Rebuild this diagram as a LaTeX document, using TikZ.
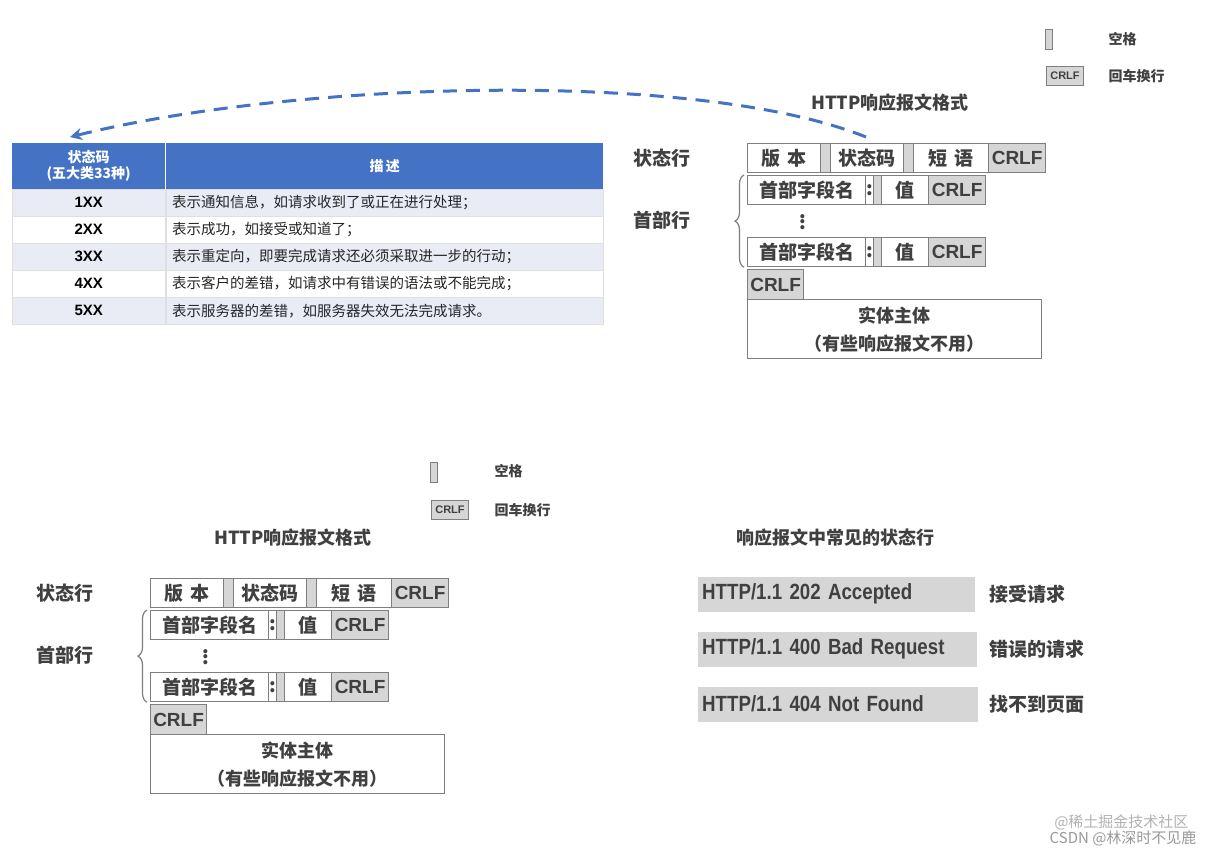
\documentclass[tikz,border=0pt]{standalone}
\usepackage{fontspec}
\setmainfont{Noto Sans CJK SC}
\newfontfamily\lat{Liberation Sans}
\newfontfamily\latn{Liberation Sans}[FakeStretch=0.85]
\usetikzlibrary{decorations.pathreplacing,arrows.meta}
\definecolor{bx}{HTML}{7F7F7F}
\definecolor{gf}{HTML}{D6D6D6}
\definecolor{tb}{HTML}{4472C4}
\definecolor{rw}{HTML}{E9EBF5}
\definecolor{tx}{HTML}{404040}
\tikzset{stl/.style={fill=gf,minimum height=35,inner sep=4pt,anchor=west,font=\latn\bfseries\fontsize{22}{22}\selectfont,text=tx},
 stlab/.style={anchor=west,font=\bfseries\fontsize{19}{20}\selectfont,text=tx}}
\newcommand{\cellnode}[7]{\node[draw=bx,line width=1.2pt,fill=#6,minimum width={#4-#2},minimum height={#5-#3},inner sep=0pt,anchor=north west,font=\bfseries\fontsize{19}{19}\selectfont,text=tx] (#1) at (#2,#3) {#7};}
\newcommand{\respfmt}[1]{%
 \node[font=\bfseries\fontsize{19}{20}\selectfont,text=tx] (#1sl) at (662,158) {状态行};
 \node[font=\bfseries\fontsize{19}{20}\selectfont,text=tx] (#1hl) at (662,220) {首部行};
 \node[font=\bfseries\fontsize{18}{20}\selectfont,text=tx] (#1ti) at (890,103) {HTTP响应报文格式};
 \cellnode{#1v}{747}{143}{820}{172}{white}{版\,\,本}
 \cellnode{#1g1}{820}{143}{830}{172}{gf}{}
 \cellnode{#1c}{830}{143}{903}{172}{white}{状态码}
 \cellnode{#1g2}{903}{143}{913}{172}{gf}{}
 \cellnode{#1p}{913}{143}{988}{172}{white}{短\,\,语}
 \cellnode{#1cr}{988}{143}{1045}{172}{gf}{\lat\bfseries CRLF}
 \foreach \r/\y in {a/175,b/237}{
 \cellnode{#1n\r}{747}{\y}{865}{\y+29}{white}{首部字段名}
 \cellnode{#1o\r}{865}{\y}{873}{\y+29}{white}{:}
 \cellnode{#1s\r}{873}{\y}{881}{\y+29}{gf}{}
 \cellnode{#1w\r}{881}{\y}{928}{\y+29}{white}{值}
 \cellnode{#1e\r}{928}{\y}{985}{\y+29}{gf}{\lat\bfseries CRLF}
 }
 \node[font=\bfseries\fontsize{19}{20}\selectfont,text=tx] (#1dt) at (803,219) {$\vdots$};
 \cellnode{#1ce}{747}{269}{803}{299}{gf}{\lat\bfseries CRLF}
 \node[draw=bx,line width=1.2pt,minimum width=294,minimum height=59,anchor=north west,align=center,font=\bfseries\fontsize{18}{28}\selectfont,text=tx] (#1bd) at (747,299) {实体主体\\（有些响应报文不用）};
 \draw[bx,line width=1.2pt,decorate,decoration={brace,amplitude=9pt}] (#1nb.south west) ++(-3,0) -- ([xshift=-3pt]#1na.north west);
}
\begin{document}
\begin{tikzpicture}[x=1pt,y=-1pt]
\useasboundingbox[fill=white] (0,0) rectangle (1215,857);
% top legend
\node[draw=bx,fill=gf,minimum width=7,minimum height=20,inner sep=0] (lg1) at (1049,39) {};
\node[font=\bfseries\fontsize{14}{14}\selectfont,text=tx,anchor=west] (lt1) at (1105,39) {空格};
\node[draw=bx,fill=gf,minimum width=37,minimum height=19,inner sep=0,font=\lat\bfseries\fontsize{11}{11}\selectfont,text=tx] (lg2) at (1065,76) {CRLF};
\node[font=\bfseries\fontsize{14}{14}\selectfont,text=tx,anchor=west] (lt2) at (1105,76) {回车换行};
\respfmt{T}
\begin{scope}[shift={(-597,435)}]
\respfmt{B}
\end{scope}
% bottom legend
\node[draw=bx,fill=gf,minimum width=7,minimum height=20,inner sep=0] (bg1) at (434,472) {};
\node[font=\bfseries\fontsize{14}{14}\selectfont,text=tx,anchor=west] (bt1) at (491,471) {空格};
\node[draw=bx,fill=gf,minimum width=37,minimum height=19,inner sep=0,font=\lat\bfseries\fontsize{11}{11}\selectfont,text=tx] (bg2) at (450,510) {CRLF};
\node[font=\bfseries\fontsize{14}{14}\selectfont,text=tx,anchor=west] (bt2) at (491,510) {回车换行};
% table
\node[fill=tb,minimum width=153,minimum height=46,inner sep=0,anchor=north west,align=center,text=white,font=\bfseries\fontsize{14}{16}\selectfont] (h1) at (12,143) {状态码\\(五大类33种)};
\node[fill=tb,minimum width=437,minimum height=46,inner sep=0,anchor=north west,text=white,font=\bfseries\fontsize{14}{16}\selectfont] (h2) at (166,143) {描\,述};
\foreach \c/\d [count=\i] in {1XX/表示通知信息，如请求收到了或正在进行处理；,2XX/表示成功，如接受或知道了；,3XX/表示重定向，即要完成请求还必须采取进一步的行动；,4XX/表示客户的差错，如请求中有错误的语法或不能完成；,5XX/表示服务器的差错，如服务器失效无法完成请求。}{
 \pgfmathsetmacro\yy{189+27*(\i-1)}
 \pgfmathsetmacro\cc{mod(\i,2)==1?1:0}
 \ifdim\cc pt>0pt \def\rf{rw}\else\def\rf{white}\fi
 \node[fill=\rf,draw=gray!25,minimum width=153,minimum height=27,inner sep=0,anchor=north west,font=\lat\bfseries\fontsize{15}{15}\selectfont] (c\i) at (12,\yy) {\c};
 \node[fill=\rf,draw=gray!25,minimum width=437,minimum height=27,inner sep=0,anchor=north west,text width=425,font=\fontsize{14.5}{15}\selectfont,text=black!85] (d\i) at (166,\yy) {\d};
}
% arrow
\coordinate (as) at (866,137);
\coordinate (ae) at (70,137);
\draw[tb,line width=3pt,dash pattern=on 14pt off 9pt,-{Stealth[length=12pt,width=12pt]}] (as) .. controls (700,70) and (300,80) .. (ae);
% common status lines
\node[font=\bfseries\fontsize{18}{20}\selectfont,text=tx] (ct) at (835,538) {响应报文中常见的状态行};
\node[stl,minimum width=277,text width=269] (s1) at (698,594) {HTTP/1.1 202 Accepted};
\node[stl,minimum width=279,text width=271] (s2) at (698,649) {HTTP/1.1 400 Bad Request};
\node[stl,minimum width=280,text width=272] (s3) at (698,704) {HTTP/1.1 404 Not Found};
\node[stlab] (sl1) at (986,594) {接受请求};
\node[stlab] (sl2) at (986,649) {错误的请求};
\node[stlab] (sl3) at (986,704) {找不到页面};
\node[anchor=east,text=gray!60,font=\fontsize{15}{15}\selectfont] (wm1) at (1192,822) {@稀土掘金技术社区};
\node[anchor=east,text=gray!80,font=\fontsize{15}{15}\selectfont] (wm2) at (1200,838) {CSDN @林深时不见鹿};
\end{tikzpicture}
\end{document}
